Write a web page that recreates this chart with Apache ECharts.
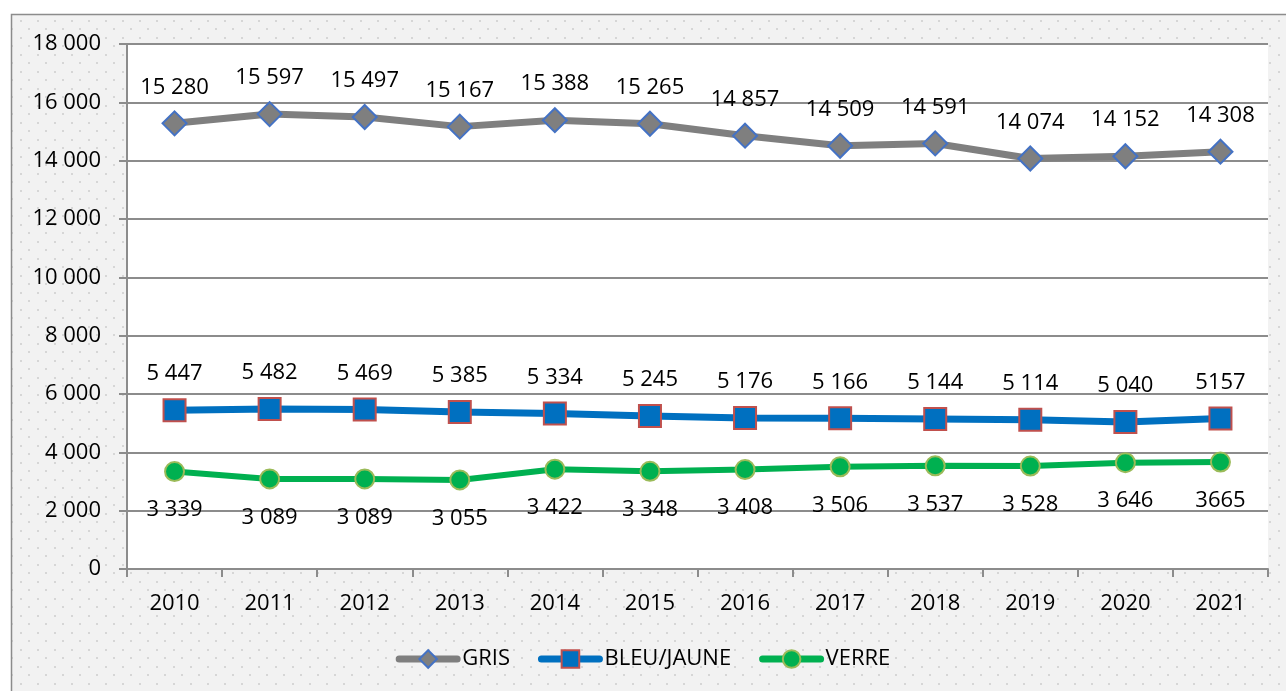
<!DOCTYPE html>
<html>
<head>
<meta charset="utf-8">
<script src="https://cdn.jsdelivr.net/npm/echarts@6/dist/echarts.min.js"></script>
<style>
  html, body { margin: 0; padding: 0; background: #fff; }
  #chart { width: 1286px; height: 691px; }
</style>
</head>
<body>
<div id="chart"></div>
<script>
const years = ['2010', '2011', '2012', '2013', '2014', '2015', '2016', '2017', '2018', '2019', '2020', '2021'];

const gris = [15280, 15597, 15497, 15167, 15388, 15265, 14857, 14509, 14591, 14074, 14152, 14308];
const bleuJaune = [5447, 5482, 5469, 5385, 5334, 5245, 5176, 5166, 5144, 5114, 5040, 5157];
const verre = [3339, 3089, 3089, 3055, 3422, 3348, 3408, 3506, 3537, 3528, 3646, 3665];

const grisLabels = ['15 280', '15 597', '15 497', '15 167', '15 388', '15 265', '14 857', '14 509', '14 591', '14 074', '14 152', '14 308'];
const bleuLabels = ['5 447', '5 482', '5 469', '5 385', '5 334', '5 245', '5 176', '5 166', '5 144', '5 114', '5 040', '5157'];
const verreLabels = ['3 339', '3 089', '3 089', '3 055', '3 422', '3 348', '3 408', '3 506', '3 537', '3 528', '3 646', '3665'];

const yTicks = ['0', '2 000', '4 000', '6 000', '8 000', '10 000', '12 000', '14 000', '16 000', '18 000'];

// dotted background tile
const tile = document.createElement('canvas');
tile.width = 17;
tile.height = 17;
const tctx = tile.getContext('2d');
tctx.fillStyle = '#f2f2f2';
tctx.fillRect(0, 0, 17, 17);
tctx.fillStyle = '#d6d6d6';
tctx.fillRect(3, 3, 2, 2);
tctx.fillRect(11, 11, 2, 2);

const font = '"Open Sans", "Noto Sans", sans-serif';
const fs = 22;

const chart = echarts.init(document.getElementById('chart'), null, { renderer: 'canvas' });

const option = {
  backgroundColor: '#fff',
  animation: false,
  textStyle: { fontFamily: font },
  graphic: [{
    type: 'rect',
    z: -10,
    silent: true,
    shape: { x: 11.5, y: 14.5, width: 1290, height: 700 },
    style: { fill: { image: tile, repeat: 'repeat' }, stroke: '#8c8c8c', lineWidth: 1.5 }
  }],
  grid: {
    left: 127,
    right: 18,
    top: 44,
    bottom: 122,
    show: true,
    backgroundColor: '#ffffff',
    borderWidth: 0
  },
  legend: {
    bottom: 16,
    left: 'center',
    itemWidth: 58,
    itemHeight: 22,
    itemGap: 28,
    lineStyle: { width: 7, cap: 'round' },
    textStyle: { fontSize: fs, color: '#000', fontFamily: font },
    data: ['GRIS', 'BLEU/JAUNE', 'VERRE']
  },
  xAxis: {
    type: 'category',
    data: years,
    boundaryGap: true,
    axisLine: { lineStyle: { color: '#8c8c8c', width: 2 } },
    axisTick: { show: true, length: 8, lineStyle: { color: '#8c8c8c', width: 2 } },
    axisLabel: { color: '#000', fontSize: fs, margin: 24, fontFamily: font }
  },
  yAxis: {
    type: 'value',
    min: 0,
    max: 18000,
    interval: 2000,
    axisLine: { show: true, lineStyle: { color: '#8c8c8c', width: 2 } },
    axisTick: { show: true, length: 8, lineStyle: { color: '#8c8c8c', width: 2 } },
    splitLine: { lineStyle: { color: '#8c8c8c', width: 2 } },
    axisLabel: {
      color: '#000',
      fontSize: fs,
      margin: 26,
      fontFamily: font,
      formatter: (v) => yTicks[Math.round(v / 2000)]
    }
  },
  series: [
    {
      name: 'GRIS',
      type: 'line',
      data: gris,
      symbol: 'diamond',
      symbolSize: 24,
      lineStyle: { color: '#7f7f7f', width: 7 },
      itemStyle: { color: '#7f7f7f', borderColor: '#4472c4', borderWidth: 2 },
      label: {
        show: true,
        position: 'top',
        distance: 12,
        fontSize: fs,
        color: '#000',
        fontFamily: font,
        formatter: (p) => grisLabels[p.dataIndex]
      },
      z: 3
    },
    {
      name: 'BLEU/JAUNE',
      type: 'line',
      data: bleuJaune,
      symbol: 'rect',
      symbolSize: 22,
      lineStyle: { color: '#0070c0', width: 7 },
      itemStyle: { color: '#0070c0', borderColor: '#c0504d', borderWidth: 2 },
      label: {
        show: true,
        position: 'top',
        distance: 13,
        fontSize: fs,
        color: '#000',
        fontFamily: font,
        formatter: (p) => bleuLabels[p.dataIndex]
      },
      z: 3
    },
    {
      name: 'VERRE',
      type: 'line',
      data: verre,
      symbol: 'circle',
      symbolSize: 19,
      lineStyle: { color: '#00b050', width: 6 },
      itemStyle: { color: '#00b050', borderColor: '#9bbb59', borderWidth: 2 },
      label: {
        show: true,
        position: 'bottom',
        distance: 17,
        fontSize: fs,
        color: '#000',
        fontFamily: font,
        formatter: (p) => verreLabels[p.dataIndex]
      },
      z: 3
    }
  ]
};

chart.setOption(option);
</script>
</body>
</html>
